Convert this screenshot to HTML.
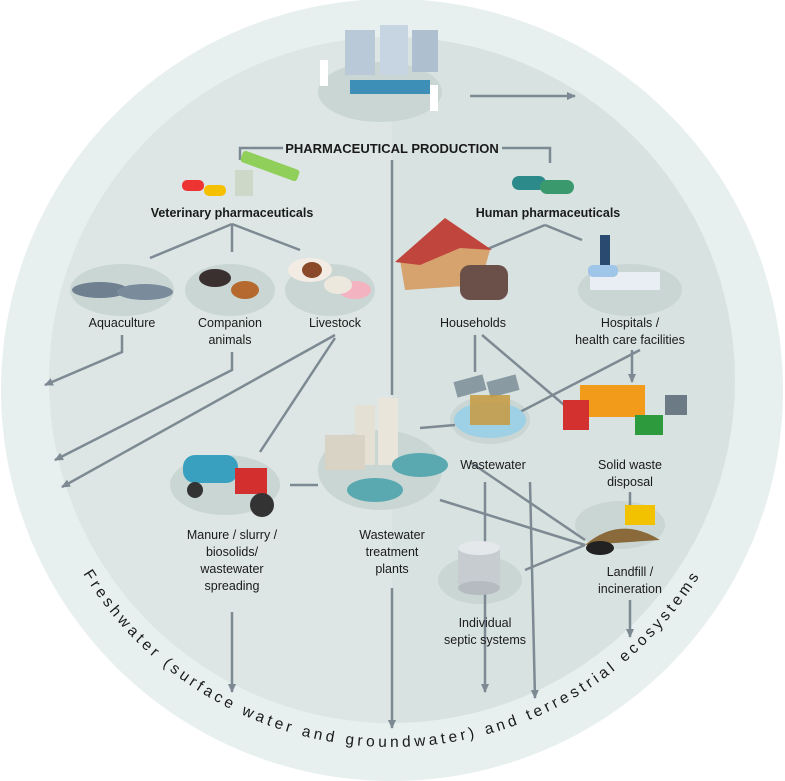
<!DOCTYPE html>
<html><head><meta charset="utf-8"><style>
html,body{margin:0;padding:0;background:#fff}
svg{display:block}
text{font-family:"Liberation Sans",sans-serif;fill:#1a1a1a}
</style></head><body>
<svg width="785" height="781" viewBox="0 0 785 781" xmlns="http://www.w3.org/2000/svg">
<defs>
<marker id="a" markerWidth="10" markerHeight="10" refX="8" refY="5" orient="auto" markerUnits="userSpaceOnUse">
<path d="M0,1 L9,5 L0,9 z" fill="#7d8a93"/></marker>
<path id="arc" d="M 30 385 A 362 362 0 0 0 754 385"/>
</defs>
<circle cx="392" cy="390" r="391" fill="#e7f0ef"/>
<circle cx="392" cy="380" r="343" fill="#d8e2e0"/>
<path d="M392 37 A343 343 0 0 0 392 723 Z" fill="#dde6e4"/>
<text font-size="15.5" letter-spacing="3.6" fill="#222"><textPath href="#arc" startOffset="50%" text-anchor="middle">Freshwater (surface water and groundwater) and terrestrial ecosystems</textPath></text>

<g fill="#c9d6d4">
<ellipse cx="380" cy="92" rx="62" ry="30"/>
<ellipse cx="122" cy="290" rx="52" ry="26"/>
<ellipse cx="230" cy="290" rx="45" ry="26"/>
<ellipse cx="330" cy="290" rx="45" ry="26"/>
<ellipse cx="630" cy="290" rx="52" ry="26"/>
<ellipse cx="490" cy="420" rx="40" ry="24"/>
<ellipse cx="380" cy="470" rx="62" ry="40"/>
<ellipse cx="225" cy="485" rx="55" ry="30"/>
<ellipse cx="480" cy="580" rx="42" ry="24"/>
<ellipse cx="620" cy="525" rx="45" ry="24"/>
</g>

<g stroke="#7d8a93" stroke-width="2.5" fill="none">
<line x1="392" y1="160" x2="392" y2="395"/>
<line x1="392" y1="588" x2="392" y2="728" marker-end="url(#a)"/>
<line x1="470" y1="96" x2="575" y2="96" marker-end="url(#a)"/>
<polyline points="502,148 550,148 550,163"/>
<polyline points="283,148 240,148 240,160"/>
<line x1="232" y1="224" x2="150" y2="258"/>
<line x1="232" y1="224" x2="232" y2="252"/>
<line x1="232" y1="224" x2="300" y2="250"/>
<line x1="545" y1="225" x2="485" y2="250"/>
<line x1="545" y1="225" x2="582" y2="240"/>
<polyline points="122,335 122,352 45,385" marker-end="url(#a)"/>
<polyline points="232,352 232,370 55,460" marker-end="url(#a)"/>
<line x1="335" y1="335" x2="62" y2="487" marker-end="url(#a)"/>
<line x1="335" y1="338" x2="260" y2="452"/>
<line x1="475" y1="335" x2="475" y2="372"/>
<line x1="482" y1="335" x2="570" y2="410"/>
<line x1="640" y1="350" x2="520" y2="412"/>
<line x1="632" y1="350" x2="632" y2="382" marker-end="url(#a)"/>
<line x1="420" y1="428" x2="455" y2="425"/>
<line x1="485" y1="482" x2="485" y2="692" marker-end="url(#a)"/>
<line x1="530" y1="482" x2="535" y2="698" marker-end="url(#a)"/>
<line x1="630" y1="492" x2="630" y2="512"/>
<line x1="630" y1="600" x2="630" y2="637" marker-end="url(#a)"/>
<line x1="318" y1="485" x2="290" y2="485"/>
<line x1="440" y1="500" x2="585" y2="545"/>
<line x1="470" y1="462" x2="585" y2="540"/>
<line x1="232" y1="612" x2="232" y2="692" marker-end="url(#a)"/>
<line x1="525" y1="570" x2="585" y2="545"/>
</g>

<g>
<rect x="345" y="30" width="30" height="45" fill="#b9c9d8"/><rect x="380" y="25" width="28" height="50" fill="#c7d5e2"/><rect x="412" y="30" width="26" height="42" fill="#aebfd0"/>
<rect x="350" y="80" width="80" height="14" fill="#3d8fb8"/><rect x="320" y="60" width="8" height="26" fill="#fff"/><rect x="430" y="85" width="8" height="26" fill="#fff"/>
<rect x="182" y="180" width="22" height="11" rx="5" fill="#e33"/><rect x="204" y="185" width="22" height="11" rx="5" fill="#f5c000"/>
<rect x="235" y="170" width="18" height="26" fill="#cdd8c8"/><rect x="240" y="160" width="60" height="12" rx="3" fill="#8fcf5a" transform="rotate(20 270 166)"/>
<rect x="512" y="176" width="34" height="14" rx="7" fill="#2c8a8a"/><rect x="540" y="180" width="34" height="14" rx="7" fill="#3a9a6e"/>
<ellipse cx="100" cy="290" rx="28" ry="8" fill="#6f8190"/><ellipse cx="145" cy="292" rx="28" ry="8" fill="#7a8c9b"/>
<ellipse cx="215" cy="278" rx="16" ry="9" fill="#3a3030"/><ellipse cx="245" cy="290" rx="14" ry="9" fill="#b5692e"/>
<ellipse cx="310" cy="270" rx="22" ry="12" fill="#f2ece4"/><ellipse cx="312" cy="270" rx="10" ry="8" fill="#8a4a2a"/><ellipse cx="355" cy="290" rx="16" ry="9" fill="#f3b3c0"/><ellipse cx="338" cy="285" rx="14" ry="9" fill="#ece8de"/>
<polygon points="400,260 450,222 490,250 480,285 405,290" fill="#d6a36e"/><polygon points="395,262 445,218 492,250 460,248 420,265" fill="#c0453c"/>
<rect x="460" y="265" width="48" height="35" rx="10" fill="#6a5048"/>
<rect x="590" y="272" width="70" height="18" fill="#e8eef4"/><rect x="588" y="265" width="30" height="12" rx="5" fill="#9fc5e8"/><rect x="600" y="235" width="10" height="30" fill="#2a4a70"/>
<ellipse cx="490" cy="420" rx="36" ry="18" fill="#9ed0e6"/><rect x="455" y="378" width="30" height="16" fill="#8a9aa3" transform="rotate(-15 470 386)"/><rect x="488" y="378" width="30" height="16" fill="#8a9aa3" transform="rotate(-15 503 386)"/><rect x="470" y="395" width="40" height="30" fill="#c79a3e" opacity=".85"/>
<rect x="580" y="385" width="65" height="32" fill="#f29b1a"/><rect x="563" y="400" width="26" height="30" fill="#d33030"/><rect x="635" y="415" width="28" height="20" fill="#2e9a3e"/><rect x="665" y="395" width="22" height="20" fill="#6b7a85"/>
<rect x="355" y="405" width="20" height="60" fill="#e4e0d4"/><rect x="378" y="398" width="20" height="67" fill="#e9e5da"/><rect x="325" y="435" width="40" height="35" fill="#d9d3c5"/>
<ellipse cx="420" cy="465" rx="28" ry="12" fill="#5aa9b0"/><ellipse cx="375" cy="490" rx="28" ry="12" fill="#5aa9b0"/>
<rect x="183" y="455" width="55" height="28" rx="12" fill="#3aa0c0"/><rect x="235" y="468" width="32" height="26" fill="#d32f2f"/><circle cx="262" cy="505" r="12" fill="#333"/><circle cx="195" cy="490" r="8" fill="#333"/>
<path d="M585 545 Q620 515 660 540 Z" fill="#8a6a3a"/><rect x="625" y="505" width="30" height="20" fill="#f2c200"/><ellipse cx="600" cy="548" rx="14" ry="7" fill="#222"/>
<rect x="458" y="548" width="42" height="40" fill="#c7ccd0"/><ellipse cx="479" cy="548" rx="21" ry="7" fill="#e5e8ea"/><ellipse cx="479" cy="588" rx="21" ry="7" fill="#b5bbc0"/>
</g>

<g text-anchor="middle" font-size="12.5">
<text x="392" y="153" font-weight="bold" font-size="13">PHARMACEUTICAL PRODUCTION</text>
<text x="232" y="217" font-weight="bold">Veterinary pharmaceuticals</text>
<text x="548" y="217" font-weight="bold">Human pharmaceuticals</text>
<text x="122" y="327">Aquaculture</text>
<text x="230" y="327">Companion</text><text x="230" y="344">animals</text>
<text x="335" y="327">Livestock</text>
<text x="473" y="327">Households</text>
<text x="630" y="327">Hospitals /</text><text x="630" y="344">health care facilities</text>
<text x="493" y="469">Wastewater</text>
<text x="630" y="469">Solid waste</text><text x="630" y="486">disposal</text>
<text x="232" y="539">Manure / slurry /</text><text x="232" y="556">biosolids/</text><text x="232" y="573">wastewater</text><text x="232" y="590">spreading</text>
<text x="392" y="539">Wastewater</text><text x="392" y="556">treatment</text><text x="392" y="573">plants</text>
<text x="630" y="576">Landfill /</text><text x="630" y="593">incineration</text>
<text x="485" y="627">Individual</text><text x="485" y="644">septic systems</text>
</g>
</svg>
</body></html>
